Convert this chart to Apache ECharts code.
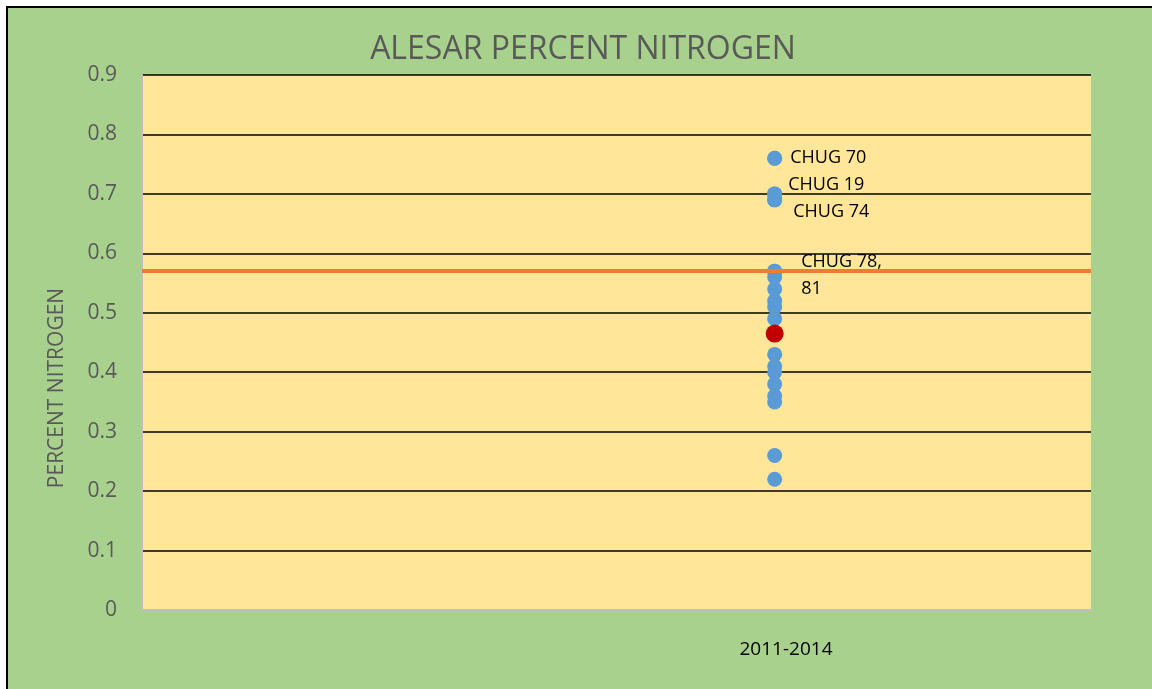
<!DOCTYPE html>
<html>
<head>
<meta charset="utf-8">
<title>Alesar percent nitrogen</title>
<script src="https://cdn.jsdelivr.net/npm/echarts@6/dist/echarts.min.js"></script>
<style>
  html, body { margin: 0; padding: 0; background: #fff; }
  #chart { width: 1152px; height: 689px; }
</style>
</head>
<body>
<div id="chart"></div>
<script>
// samples, all in the one 2011-2014 column
const period = '2011-2014'
const periodX = 2
const nitrogen = [0.76, 0.70, 0.69, 0.57, 0.56, 0.54, 0.52, 0.51, 0.49, 0.43, 0.41, 0.40, 0.38, 0.36, 0.35, 0.26, 0.22]
const meanValue = 0.465
const limitValue = 0.572
const yTicks = [0, 0.1, 0.2, 0.3, 0.4, 0.5, 0.6, 0.7, 0.8, 0.9]
const labelNames = ['CHUG 70', 'CHUG 19', 'CHUG 74', 'CHUG 78,\n81']
const labelValues = [0.76, 0.70, 0.69, 0.57]

const labelOffsets = [[0, 0], [-2, -9], [3, 12], [11, 4]]

const chart = echarts.init(document.getElementById('chart'))
const grey = '#595959'

chart.setOption({
  backgroundColor: '#A9D18E',
  animation: false,
  textStyle: { fontFamily: 'Open Sans, sans-serif' },
  grid: {
    left: 142, right: 61, top: 75, bottom: 79,
    show: true, backgroundColor: '#FFE699', borderWidth: 0
  },
  xAxis: {
    type: 'value', min: 0, max: 3,
    axisLine: { show: true, onZero: false, lineStyle: { color: '#bfbfbf', width: 2 } },
    axisTick: { show: false },
    axisLabel: { show: false },
    splitLine: { show: false }
  },
  yAxis: {
    type: 'value',
    min: yTicks[0], max: yTicks[yTicks.length - 1], interval: 0.1,
    axisLine: { show: true, lineStyle: { color: '#bfbfbf', width: 2 } },
    axisTick: { show: false },
    axisLabel: {
      color: grey, fontSize: 21, margin: 25,
      formatter: v => String(Math.round(v * 10) / 10)
    },
    splitLine: { lineStyle: { color: '#000', width: 1.5 } }
  },
  graphic: [
    { type: 'rect', shape: { x: 0, y: 0, width: 1152, height: 6 }, style: { fill: '#fff' } },
    { type: 'rect', shape: { x: 0, y: 0, width: 6, height: 689 }, style: { fill: '#fff' } },
    { type: 'rect', shape: { x: 6, y: 6, width: 1146, height: 2 }, style: { fill: '#000' } },
    { type: 'rect', shape: { x: 6, y: 6, width: 2, height: 683 }, style: { fill: '#000' } },
    {
      type: 'text', x: 583, y: 50,
      style: { text: 'ALESAR PERCENT NITROGEN', fill: grey, font: '32px "Open Sans", sans-serif', textAlign: 'center', textVerticalAlign: 'middle' }
    },
    {
      type: 'text', x: 57, y: 388, rotation: Math.PI / 2,
      style: { text: 'PERCENT NITROGEN', fill: grey, font: '21px "Open Sans", sans-serif', textAlign: 'center', textVerticalAlign: 'middle' }
    },
    {
      type: 'text', x: 786, y: 650,
      style: { text: period, fill: '#000', font: '19px "Open Sans", sans-serif', textAlign: 'center', textVerticalAlign: 'middle' }
    }
  ],
  series: [
    {
      name: 'Samples',
      type: 'scatter',
      symbolSize: 15,
      itemStyle: { color: '#5B9BD5', opacity: 1 },
      data: nitrogen.map(v => [periodX, v]),
      markLine: {
        silent: true,
        symbol: 'none',
        label: { show: false },
        lineStyle: { color: '#ED7D31', width: 4, type: 'solid' },
        data: [{ yAxis: limitValue }]
      },
      z: 3
    },
    {
      name: 'Labels',
      type: 'scatter',
      symbolSize: 15,
      itemStyle: { color: '#5B9BD5', opacity: 1 },
      data: labelValues.map((v, i) => ({
        value: [periodX, v],
        label: {
          show: true, position: 'right', distance: 8,
          formatter: labelNames[i],
          offset: labelOffsets[i],
          color: '#000', fontSize: 18, lineHeight: 27,
          fontFamily: 'Open Sans, sans-serif'
        }
      })),
      z: 4
    },
    {
      name: 'Mean',
      type: 'scatter',
      symbolSize: 18,
      itemStyle: { color: '#C00000', opacity: 1 },
      data: [[periodX, meanValue]],
      z: 5
    }
  ]
})
</script>
</body>
</html>
